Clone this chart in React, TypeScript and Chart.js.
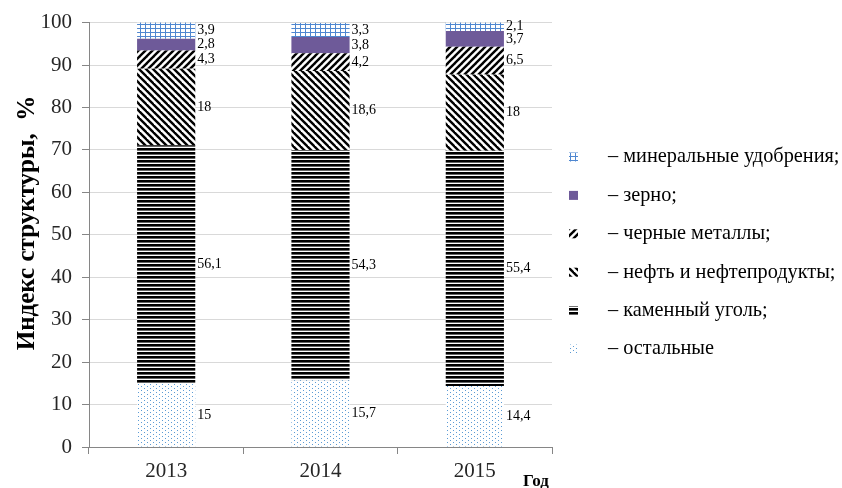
import React, { useEffect, useRef } from 'react';
import { Chart, registerables } from 'chart.js';
Chart.register(...registerables);

const years = ['2013', '2014', '2015'];
const others = [15, 15.7, 14.4];
const coal = [56.1, 54.3, 55.4];
const oil = [18, 18.6, 18];
const metals = [4.3, 4.2, 6.5];
const grain = [2.8, 3.8, 3.7];
const fertilizers = [3.9, 3.3, 2.1];
const seriesNames = ['остальные', 'каменный уголь', 'нефть и нефтепродукты', 'черные металлы', 'зерно', 'минеральные удобрения'];
const legendLabels = ['– остальные', '– каменный уголь;', '– нефть и нефтепродукты;', '– черные металлы;', '– зерно;', '– минеральные удобрения;'];
const yTitle = 'Индекс структуры,  %';
const xTitle = 'Год';

const FONT = '"Liberation Serif", "Times New Roman", serif';

function tile(ctx: CanvasRenderingContext2D, w: number, h: number, draw: (c: CanvasRenderingContext2D) => void) {
  const c = document.createElement('canvas');
  c.width = w;
  c.height = h;
  const t = c.getContext('2d')!;
  draw(t);
  return ctx.createPattern(c, 'repeat')!;
}

function makePatterns(ctx: CanvasRenderingContext2D) {
  const dots = tile(ctx, 6, 4, (t) => {
    t.fillStyle = '#fff';
    t.fillRect(0, 0, 6, 4);
    t.fillStyle = '#5b9bd5';
    t.fillRect(0, 0, 1, 1);
    t.fillRect(3, 2, 1, 1);
  });
  const hlines = tile(ctx, 4, 4, (t) => {
    t.fillStyle = '#fff';
    t.fillRect(0, 0, 4, 4);
    t.fillStyle = '#000';
    t.fillRect(0, 0, 4, 2.6);
  });
  const diag = (dir: number) =>
    tile(ctx, 7, 7, (t) => {
      t.fillStyle = '#fff';
      t.fillRect(0, 0, 7, 7);
      t.strokeStyle = '#000';
      t.lineWidth = 2.4;
      for (const off of [-7, 0, 7]) {
        t.beginPath();
        if (dir > 0) {
          t.moveTo(off - 1, 8);
          t.lineTo(off + 8, -1);
        } else {
          t.moveTo(off - 1, -1);
          t.lineTo(off + 8, 8);
        }
        t.stroke();
      }
    });
  const grid = tile(ctx, 5, 4, (t) => {
    t.fillStyle = '#fff';
    t.fillRect(0, 0, 5, 4);
    t.fillStyle = '#4f87d0';
    t.fillRect(0, 0, 1, 4);
    t.fillRect(0, 0, 5, 1);
  });
  return [dots, hlines, diag(-1), diag(1), '#6e5a99', grid];
}

const seriesData = [others, coal, oil, metals, grain, fertilizers];

export default function App() {
  const ref = useRef<HTMLCanvasElement>(null);
  useEffect(() => {
    const canvas = ref.current!;
    const ctx = canvas.getContext('2d')!;
    const fills = makePatterns(ctx);

    const overlay = {
      id: 'overlay',
      afterDraw(chart: any) {
        const c = chart.ctx as CanvasRenderingContext2D;
        c.save();
        // data labels
        c.font = `14px ${FONT}`;
        c.fillStyle = '#000';
        c.textAlign = 'left';
        c.textBaseline = 'middle';
        chart.data.datasets.forEach((ds: any, i: number) => {
          const meta = chart.getDatasetMeta(i);
          meta.data.forEach((el: any, j: number) => {
            const v = ds.data[j];
            const y = (el.y + el.base) / 2;
            c.fillText(String(v).replace('.', ','), el.x + el.width / 2 + 2, y);
          });
        });
        // legend
        c.font = `20.3px ${FONT}`;
        c.textBaseline = 'middle';
        const n = legendLabels.length;
        for (let k = 0; k < n; k++) {
          const i = n - 1 - k;
          const y = 157 + k * 38.4;
          c.fillStyle = fills[i] as any;
          c.fillRect(569, y - 4.5, 9, 9);
          c.fillStyle = '#000';
          c.fillText(legendLabels[i], 608, y);
        }
        // y title
        c.save();
        c.translate(28, 223);
        c.rotate(-Math.PI / 2);
        c.font = `bold 25px ${FONT}`;
        c.textAlign = 'center';
        c.textBaseline = 'middle';
        c.fillStyle = '#000';
        c.fillText(yTitle, 0, 0);
        c.restore();
        // x title
        c.font = `bold 17px ${FONT}`;
        c.textAlign = 'left';
        c.textBaseline = 'alphabetic';
        c.fillStyle = '#000';
        c.fillText(xTitle, 523, 486);
        c.restore();
      },
    };

    const chart = new Chart(canvas, {
      type: 'bar',
      data: {
        labels: years,
        datasets: seriesData.map((d, i) => ({
          label: seriesNames[i],
          data: d,
          backgroundColor: fills[i] as any,
          borderWidth: 0,
          categoryPercentage: 1,
          barPercentage: 0.377,
        })),
      },
      options: {
        responsive: false,
        animation: false,
        layout: { padding: { top: 20, right: 290, left: 0, bottom: 0 } },
        plugins: { legend: { display: false }, tooltip: { enabled: false } },
        scales: {
          x: {
            stacked: true,
            grid: { display: true, drawOnChartArea: false, offset: true, tickLength: 7, tickColor: '#868686' },
            border: { color: '#868686' },
            ticks: { font: { family: FONT, size: 21 }, color: '#262626', padding: 5 },
            afterFit: (s: any) => {
              s.height = 41;
            },
          },
          y: {
            stacked: true,
            min: 0,
            max: 100,
            ticks: { stepSize: 10, font: { family: FONT, size: 21 }, color: '#262626', padding: 10 },
            grid: { color: '#d9d9d9', tickColor: '#868686', tickLength: 7 },
            border: { color: '#868686' },
            afterFit: (s: any) => {
              s.width = 89;
            },
          },
        },
      },
      plugins: [overlay],
    });
    return () => chart.destroy();
  }, []);
  return (
    <div style={{ position: 'fixed', left: 0, top: 0, width: 842, height: 488, background: '#fff' }}>
      <canvas ref={ref} width={842} height={488} style={{ width: 842, height: 488, display: 'block' }} />
    </div>
  );
}
